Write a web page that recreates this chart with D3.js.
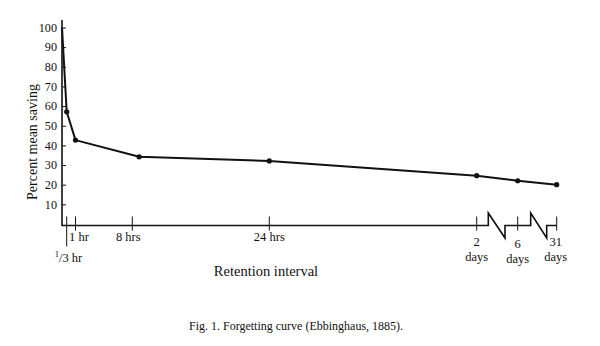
<!DOCTYPE html>
<html><head><meta charset="utf-8">
<script src="https://cdn.jsdelivr.net/npm/d3@7"></script>
<style>
html,body{margin:0;padding:0;background:#fff;}
svg{display:block;font-family:"Liberation Serif","Times New Roman",serif;}
</style></head>
<body>
<svg id="chart" width="600" height="346"></svg>
<script>
// ---- data ----
const hours  = [0, 1/3, 1, 8.8, 24, 48, 144, 744];
const saving = [100, 57.1, 42.7, 34.2, 32.1, 24.6, 22.0, 20.0];
const yTicks = [10, 20, 30, 40, 50, 60, 70, 80, 90, 100];
const xTickHours = [1/3, 1, 8, 24, 48, 144, 744];
const xTickLine1 = ["1/3 hr", "1 hr", "8 hrs", "24 hrs", "2", "6", "31"];
const xTickLine2 = ["", "", "", "", "days", "days", "days"];
const yTitle = "Percent mean saving";
const xTitle = "Retention interval";
const caption = "Fig. 1. Forgetting curve (Ebbinghaus, 1885).";

const svg = d3.select("#chart");
const ink = "#111";

// piecewise scale reproducing the broken/uneven time axis of the figure
const x = d3.scaleLinear()
  .domain([0, 1/3, 1, 8, 24, 48, 144, 744])
  .range([62, 66.7, 75.5, 132.3, 269.3, 476.7, 517.7, 556.7]);
const y = d3.scaleLinear().domain([0, 100]).range([224, 27.5]);
const axisY = 225.5;

// y axis
const yAxis = d3.axisRight(y).tickValues(yTicks).tickSize(4).tickFormat("");
const gy = svg.append("g").attr("transform", `translate(${x(0)},0)`).call(yAxis);
gy.select(".domain").remove();
gy.selectAll(".tick line").attr("stroke", ink).attr("stroke-width", 1);
svg.append("line").attr("x1", x(0)).attr("x2", x(0)).attr("y1", 20).attr("y2", axisY + 0.5)
  .attr("stroke", ink).attr("stroke-width", 1.6);
svg.append("g").selectAll("text").data(yTicks).join("text")
  .attr("x", 57).attr("y", d => y(d) + 4.3)
  .attr("text-anchor", "end").attr("font-size", 12.2).attr("fill", ink)
  .text(d => d);

// x axis with breaks
const b1s = x(48) + 11.6, b1e = x(144) - 12.7;
const b2s = x(144) + 13,  b2e = x(744) - 10;
const up = 12.5, down = 12.5;
const axisPath = d3.path();
axisPath.moveTo(x(0), axisY);
axisPath.lineTo(b1s, axisY); axisPath.lineTo(b1s, axisY - up);
axisPath.lineTo(b1e, axisY + down); axisPath.lineTo(b1e, axisY);
axisPath.lineTo(b2s, axisY); axisPath.lineTo(b2s, axisY - up);
axisPath.lineTo(b2e, axisY + down); axisPath.lineTo(b2e, axisY);
axisPath.lineTo(x(744), axisY);
svg.append("path").attr("d", axisPath.toString()).attr("fill", "none")
  .attr("stroke", ink).attr("stroke-width", 1.6).attr("stroke-linejoin", "miter");

// x ticks
svg.append("g").selectAll("line").data(xTickHours).join("line")
  .attr("x1", d => x(d)).attr("x2", d => x(d))
  .attr("y1", axisY - 9)
  .attr("y2", (d, i) => i === 0 ? axisY + 21 : axisY + 5)
  .attr("stroke", ink).attr("stroke-width", 1);

// x tick labels
const lab = svg.append("g").attr("font-size", 12.5).attr("fill", ink);
xTickHours.forEach((h, i) => {
  const cx = x(h);
  if (i === 0) {
    const t = lab.append("text").attr("x", cx - 12).attr("y", 262);
    t.append("tspan").attr("font-size", 8.5).attr("dy", -5).text("1");
    t.append("tspan").attr("dy", 5).text("/3 hr");
  } else if (i === 1) {
    lab.append("text").attr("x", cx - 6.5).attr("y", 241).text(xTickLine1[i]);
  } else if (i < 4) {
    lab.append("text").attr("x", cx - (i === 2 ? 4 : 0)).attr("y", 241)
      .attr("text-anchor", "middle").text(xTickLine1[i]);
  } else {
    const dy = i === 5 ? 2 : 0;
    const dx = i === 6 ? -1 : 0;
    lab.append("text").attr("x", cx + dx).attr("y", 246 + dy)
      .attr("text-anchor", "middle").text(xTickLine1[i]);
    lab.append("text").attr("x", cx + dx).attr("y", 261 + dy)
      .attr("text-anchor", "middle").text(xTickLine2[i]);
  }
});

// curve
const pts = hours.map((h, i) => [h, saving[i]]);
svg.append("path").datum(pts)
  .attr("d", d3.line().x(d => x(d[0])).y(d => y(d[1])))
  .attr("fill", "none").attr("stroke", ink).attr("stroke-width", 2)
  .attr("stroke-linejoin", "round");
svg.append("g").selectAll("circle").data(pts.slice(1)).join("circle")
  .attr("cx", d => x(d[0])).attr("cy", d => y(d[1])).attr("r", 2.6)
  .attr("fill", ink);

// titles
svg.append("text").attr("transform", "translate(37,142) rotate(-90)")
  .attr("text-anchor", "middle").attr("font-size", 14).attr("fill", ink).text(yTitle);
svg.append("text").attr("x", 266).attr("y", 276)
  .attr("text-anchor", "middle").attr("font-size", 14.5).attr("fill", ink).text(xTitle);
svg.append("text").attr("x", 296).attr("y", 330)
  .attr("text-anchor", "middle").attr("font-size", 12).attr("fill", ink).text(caption);
</script>
</body></html>
